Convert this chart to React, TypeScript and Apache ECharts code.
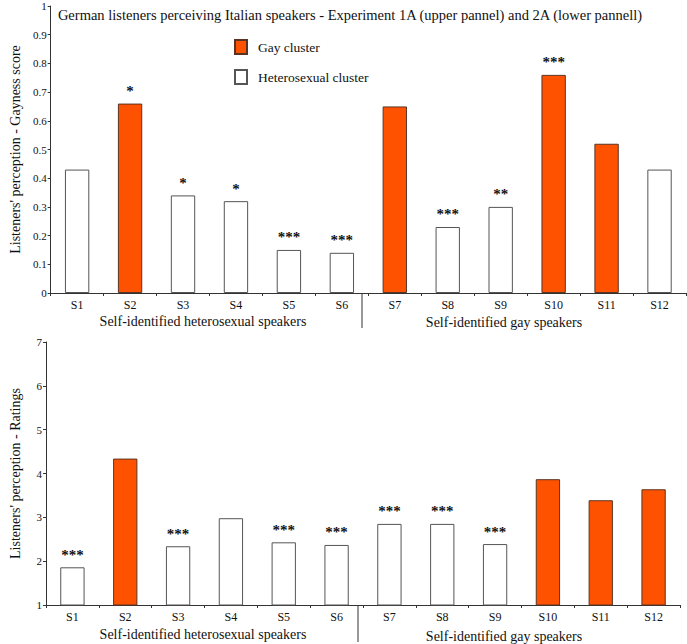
import React, { useEffect, useRef } from "react";
import * as echarts from "echarts";

const categories = ["S1", "S2", "S3", "S4", "S5", "S6", "S7", "S8", "S9", "S10", "S11", "S12"];

const upperValues = [0.43, 0.66, 0.34, 0.32, 0.15, 0.14, 0.65, 0.23, 0.3, 0.76, 0.52, 0.43];
const upperGay = [false, true, false, false, false, false, true, false, false, true, true, false];
const upperSig = ["", "*", "*", "*", "***", "***", "", "***", "**", "***", "", ""];

const lowerValues = [1.86, 4.34, 2.34, 2.98, 2.43, 2.37, 2.85, 2.85, 2.39, 3.87, 3.39, 3.64];
const lowerGay = [false, true, false, false, false, false, false, false, false, true, true, true];
const lowerSig = ["***", "", "***", "", "***", "***", "***", "***", "***", "", "", ""];

const groupLabels = ["Self-identified heterosexual speakers", "Self-identified gay speakers"];
const legendNames = ["Gay cluster", "Heterosexual cluster"];

const TITLE = "German listeners perceiving Italian speakers - Experiment 1A (upper pannel) and 2A (lower pannell)";
const FONT = "Liberation Serif";
const ORANGE = "#ff5200";

const U = { left: 38, top: 6, width: 648, height: 287 };
const L = { left: 36, top: 342, width: 644, height: 263 };

export default function App() {
  const ref = useRef<HTMLDivElement>(null);
  useEffect(() => {
    if (!ref.current) return;
    const chart = echarts.init(ref.current, undefined, { renderer: "svg" });

    const mkSeries = (values: number[], gay: boolean[], sig: string[], idx: number) => {
      const lbl = {
        show: true,
        position: "top",
        distance: 5,
        fontFamily: FONT,
        fontSize: 15,
        fontWeight: "bold",
        color: "#111",
        formatter: (p: any) => sig[p.dataIndex],
      };
      return [
        {
          name: legendNames[0],
          type: "bar",
          xAxisIndex: idx,
          yAxisIndex: idx,
          stack: "s" + idx,
          barWidth: "46%",
          data: values.map((v, i) => (gay[i] ? v : "-")),
          itemStyle: { color: ORANGE, borderColor: "#5a3422", borderWidth: 1 },
          label: lbl,
        },
        {
          name: legendNames[1],
          type: "bar",
          xAxisIndex: idx,
          yAxisIndex: idx,
          stack: "s" + idx,
          barWidth: "46%",
          data: values.map((v, i) => (!gay[i] ? v : "-")),
          itemStyle: { color: "#ffffff", borderColor: "#555", borderWidth: 1 },
          label: lbl,
        },
      ];
    };

    const xAx = (gi: number) => ({
      type: "category",
      gridIndex: gi,
      data: categories,
      boundaryGap: true,
      axisLine: { lineStyle: { color: "#333", width: 1 } },
      axisTick: { show: true, length: 3, lineStyle: { color: "#333" } },
      axisLabel: { color: "#111", fontFamily: FONT, fontSize: 12, margin: 6 },
    });

    const yAx = (gi: number, min: number, max: number, interval: number, name: string) => ({
      type: "value",
      gridIndex: gi,
      min,
      max,
      interval,
      name,
      nameLocation: "middle",
      nameGap: 24,
      nameTextStyle: { fontFamily: FONT, fontSize: 14, color: "#111" },
      splitLine: { show: false },
      axisLine: { show: true, lineStyle: { color: "#333", width: 1 } },
      axisTick: { show: true, length: 3, lineStyle: { color: "#333" } },
      axisLabel: { color: "#111", fontFamily: FONT, fontSize: 11, margin: 4 },
    });

    const uDiv = U.left + (U.width / categories.length) * 6;
    const lDiv = L.left + (L.width / categories.length) * 6;
    const uBottom = U.top + U.height;
    const lBottom = L.top + L.height;

    const gText = (text: string, x: number, y: number) => ({
      type: "text",
      x,
      y,
      style: { text, fontFamily: FONT, fontSize: 14, fill: "#111", textAlign: "center", textVerticalAlign: "middle" },
    });

    chart.setOption({
      animation: false,
      backgroundColor: "#fff",
      title: {
        text: TITLE,
        left: 345,
        textAlign: "center",
        top: 2,
        textStyle: { fontFamily: FONT, fontSize: 14.5, fontWeight: "normal", color: "#111" },
      },
      legend: {
        data: legendNames,
        orient: "vertical",
        left: 234,
        top: 39,
        padding: 0,
        itemWidth: 12,
        itemHeight: 14,
        itemGap: 14,
        icon: "rect",
        selectedMode: false,
        textStyle: { fontFamily: FONT, fontSize: 13.5, color: "#111", padding: [0, 0, 0, 6] },
      },
      grid: [
        { left: U.left, top: U.top, width: U.width, height: U.height },
        { left: L.left, top: L.top, width: L.width, height: L.height },
      ],
      xAxis: [xAx(0), xAx(1)],
      yAxis: [
        yAx(0, 0, 1, 0.1, "Listeners' perception - Gayness score"),
        yAx(1, 1, 7, 1, "Listeners' perception - Ratings"),
      ],
      series: [...mkSeries(upperValues, upperGay, upperSig, 0), ...mkSeries(lowerValues, lowerGay, lowerSig, 1)],
      graphic: [
        { type: "line", shape: { x1: uDiv, y1: uBottom, x2: uDiv, y2: uBottom + 35 }, style: { stroke: "#333", lineWidth: 1 } },
        { type: "line", shape: { x1: lDiv, y1: lBottom, x2: lDiv, y2: lBottom + 37 }, style: { stroke: "#333", lineWidth: 1 } },
        gText(groupLabels[0], 203, uBottom + 28),
        gText(groupLabels[1], 504, uBottom + 29),
        gText(groupLabels[0], 203, lBottom + 29),
        gText(groupLabels[1], 504, lBottom + 31),
      ],
    });
    return () => chart.dispose();
  }, []);
  return (
    <div
      ref={ref}
      style={{ position: "fixed", left: 0, top: 0, width: 687, height: 644, background: "#fff" }}
    />
  );
}
